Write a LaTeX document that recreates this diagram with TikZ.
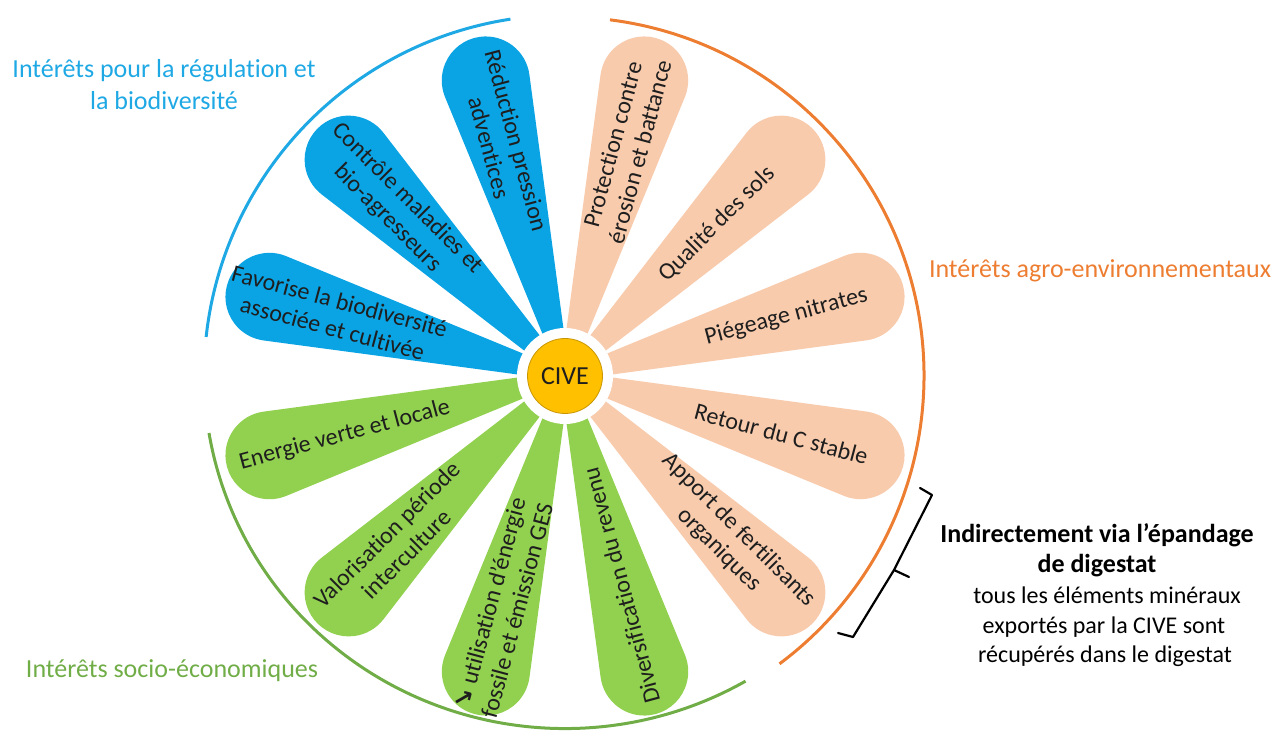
\documentclass[tikz,border=0pt]{standalone}
\usepackage{fontspec}
\setmainfont{Carlito}[Ligatures={NoCommon,NoContextual}]
\newfontfamily\arrowfont{DejaVu Sans}
\definecolor{pblue}{RGB}{10,163,228}
\definecolor{tblue}{RGB}{30,168,228}
\definecolor{porange}{RGB}{248,203,173}
\definecolor{torange}{RGB}{237,125,49}
\definecolor{pgreen}{RGB}{146,208,80}
\definecolor{tgreen}{RGB}{112,173,71}
\definecolor{civefill}{RGB}{255,192,0}
\definecolor{civeline}{RGB}{200,150,0}
\definecolor{ink}{RGB}{30,30,30}
\newcommand\cvpetal[2]{\fill[#2, shift={(C)}, rotate=#1] (30,-8.7) -- (300.4,-43.6) arc[start angle=-97.3, end angle=97.3, radius=44] -- (30,8.7) -- cycle;}
\begin{document}
\begin{tikzpicture}[x=1pt,y=1pt,
  petaltext/.style={text=ink, align=center, font=\fontsize{24}{28}\selectfont, inner sep=0pt},
  title/.style={anchor=base, font=\fontsize{26}{30}\selectfont, inner sep=0pt},
  note/.style={anchor=base, text=black, font=\fontsize{24}{28}\selectfont, inner sep=0pt},
  notebold/.style={note, font=\fontsize{26}{30}\selectfont\bfseries},
  arcline/.style={line width=3pt}
]
\useasboundingbox (0,0) rectangle (1279,734);
\coordinate (C) at (565,358);
% petals
\cvpetal{105}{pblue}
\cvpetal{135}{pblue}
\cvpetal{165}{pblue}
\cvpetal{75}{porange}
\cvpetal{45}{porange}
\cvpetal{15}{porange}
\cvpetal{-15}{porange}
\cvpetal{-45}{porange}
\cvpetal{-75}{pgreen}
\cvpetal{-105}{pgreen}
\cvpetal{-135}{pgreen}
\cvpetal{-165}{pgreen}
% arcs
\draw[tblue, arcline] ([shift={(98.7:361)}]C) arc[start angle=98.7, end angle=173.8, radius=361];
\draw[torange, arcline] ([shift={(82.8:359)}]C) arc[start angle=82.8, end angle=-53.3, radius=359];
\draw[tgreen, arcline] ([shift={(-356,-57)}]C) arc[start angle=189.5, end angle=300, x radius=361, y radius=354];
% centre
\fill[white] (C) circle[radius=48];
\node[circle, fill=civefill, draw=civeline, line width=0.8pt, minimum size=75pt, inner sep=0pt, text=ink, font=\fontsize{26}{30}\selectfont] (cive) at (C) {CIVE};
% petal texts
\node[petaltext, rotate=-75] (p1) at ([shift={(105:240)}]C) {Réduction pression\\adventices};
\node[petaltext, rotate=-45] (p2) at ([shift={(135:237)}]C) {Contrôle maladies et\\bio-agresseurs};
\node[petaltext, rotate=-15] (p3) at ([shift={(165:237)}]C) {Favorise la biodiversité\\associée et cultivée};
\node[petaltext, rotate=75] (p4) at ([shift={(75:236)}]C) {Protection contre\\érosion et battance};
\node[petaltext, rotate=45] (p5) at ([shift={(45:215)}]C) {Qualité des sols};
\node[petaltext, rotate=15] (p6) at ([shift={(15:229)}]C) {Piégeage nitrates};
\node[petaltext, rotate=-15] (p7) at ([shift={(-15:224)}]C) {Retour du C stable};
\node[petaltext, rotate=-45] (p8) at ([shift={(-45:232)}]C) {Apport de fertilisants\\organiques};
\node[petaltext, rotate=105] (p9) at ([shift={(-75:217)}]C) {Diversification du revenu};
\node[petaltext, rotate=75] (p10) at ([shift={(-105:239)}]C) {{\arrowfont\bfseries ↘} utilisation d’énergie\\fossile et émission GES};
\node[petaltext, rotate=45] (p11) at ([shift={(-135:238)}]C) {Valorisation période\\interculture};
\node[petaltext, rotate=15] (p12) at ([shift={(-165:228)}]C) {Energie verte et locale};
% titles
\node[title, text=tblue] (t1) at (164,656) {Intérêts pour la régulation et};
\node[title, text=tblue] (t2) at (164,624) {la biodiversité};
\node[title, text=torange] (t3) at (1100,456) {Intérêts agro-environnementaux};
\node[title, text=tgreen] (t4) at (172,57) {Intérêts socio-économiques};
% brace
\coordinate (b1) at (838,101);
\coordinate (b2) at (853,97);
\coordinate (b3) at (894,164);
\coordinate (b4) at (909,157);
\coordinate (b5) at (932,239);
\coordinate (b6) at (920,246);
\draw[line width=2.2pt, line join=round, line cap=round] (b1) -- (b2) -- (b3) -- (b5) -- (b6);
\draw[line width=2.2pt, line cap=round] (b3) -- (b4);
% note
\node[notebold] (n1) at (1097,192) {Indirectement via l’épandage};
\node[notebold] (n2) at (1097,162) {de digestat};
\node[note] (n3) at (1107,131) {tous les éléments minéraux};
\node[note] (n4) at (1104,101) {exportés par la CIVE sont};
\node[note] (n5) at (1105,72) {récupérés dans le digestat};
\end{tikzpicture}
\end{document}
